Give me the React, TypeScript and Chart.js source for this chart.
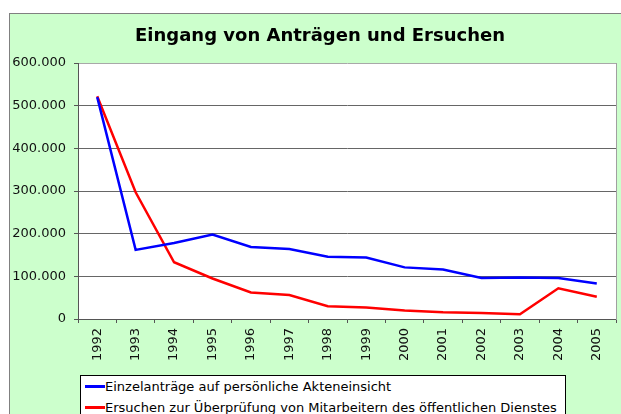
import React, { useEffect, useRef } from "react";
import { Chart, registerables } from "chart.js";

Chart.register(...registerables);

const chartTitle = "Eingang von Anträgen und Ersuchen";
const years = ["1992", "1993", "1994", "1995", "1996", "1997", "1998", "1999", "2000", "2001", "2002", "2003", "2004", "2005"];
const einzelantraege = [520000, 162000, 178000, 198000, 169000, 164000, 146000, 144000, 121000, 116000, 96000, 97000, 96000, 83000];
const ersuchen = [522000, 297000, 133000, 95000, 62000, 56000, 30000, 27000, 20000, 16000, 14000, 11000, 72000, 52000];
const seriesNames = [
  "Einzelanträge auf persönliche Akteneinsicht",
  "Ersuchen zur Überprüfung von Mitarbeitern des öffentlichen Dienstes",
];
const seriesColors = ["#0000FF", "#FF0000"];
const yMin = 0;
const yMax = 600000;
const yStep = 100000;

const fmt = (n: number) => String(Math.round(n)).replace(/\B(?=(\d{3})+(?!\d))/g, ".");

const FONT = "'DejaVu Sans', Verdana, sans-serif";

export default function App() {
  const ref = useRef<HTMLCanvasElement | null>(null);

  useEffect(() => {
    if (!ref.current) return;
    const plotBg = {
      id: "plotBg",
      beforeDraw(chart: any) {
        const { ctx, chartArea: a } = chart;
        ctx.save();
        ctx.fillStyle = "#FFFFFF";
        ctx.fillRect(a.left, a.top, a.right - a.left, a.bottom - a.top);
        ctx.restore();
      },
    };
    const chart = new Chart(ref.current, {
      type: "line",
      data: {
        labels: years,
        datasets: [
          {
            label: seriesNames[0],
            data: einzelantraege,
            borderColor: seriesColors[0],
            backgroundColor: seriesColors[0],
            borderWidth: 2.5,
            pointRadius: 0,
            tension: 0,
            yAxisID: "y",
          },
          {
            label: seriesNames[1],
            data: ersuchen,
            borderColor: seriesColors[1],
            backgroundColor: seriesColors[1],
            borderWidth: 2.5,
            pointRadius: 0,
            tension: 0,
            yAxisID: "y",
          },
        ],
      },
      options: {
        responsive: false,
        animation: false,
        layout: { padding: { left: 0, right: 0, top: 0, bottom: 5 } },
        plugins: {
          legend: { display: false },
          tooltip: { enabled: false },
          title: {
            display: true,
            text: chartTitle,
            color: "#000",
            font: { family: FONT, size: 18, weight: "bold", lineHeight: 1.2 },
            padding: { top: 12, bottom: 15.4 },
          },
        },
        scales: {
          x: {
            type: "category",
            offset: true,
            grid: {
              offset: true,
              drawOnChartArea: false,
              drawTicks: true,
              tickLength: 4,
              color: "#555",
            },
            border: { display: true, color: "#555", width: 1 },
            ticks: {
              autoSkip: false,
              minRotation: 90,
              maxRotation: 90,
              padding: 5,
              color: "#111",
              font: { family: FONT, size: 13 },
            },
            afterFit: (s: any) => {
              s.height = 50;
            },
          },
          y: {
            min: yMin,
            max: yMax,
            ticks: {
              stepSize: yStep,
              padding: 8,
              color: "#111",
              font: { family: FONT, size: 13 },
              callback: (v: any) => fmt(Number(v)),
            },
            grid: {
              color: (c: any) => (c.tick && c.tick.value === yMax ? "#a8a8a8" : "#666666"),
              lineWidth: 1,
              tickLength: 4,
              tickColor: "#555",
            },
            border: { display: true, color: "#555", width: 1 },
            afterFit: (s: any) => {
              s.width = 68;
            },
          },
          yRight: {
            position: "right",
            min: yMin,
            max: yMax,
            ticks: { display: false, stepSize: yStep },
            grid: { drawOnChartArea: false, drawTicks: false },
            border: { display: true, color: "#a0a0a0", width: 1 },
            afterFit: (s: any) => {
              s.width = 14;
            },
          },
        },
      },
      plugins: [plotBg],
    } as any);
    return () => chart.destroy();
  }, []);

  return (
    <div style={{ position: "fixed", left: 0, top: 0, width: 621, height: 414, overflow: "hidden", background: "#fff" }}>
      <div
        style={{
          position: "absolute",
          left: 9,
          top: 13,
          width: 640,
          height: 420,
          background: "#CCFFCC",
          border: "1px solid #808080",
        }}
      >
        <canvas ref={ref} width={620} height={360} style={{ display: "block", width: 620, height: 360 }} />
        <div
          style={{
            position: "absolute",
            left: 70,
            top: 361,
            width: 486,
            boxSizing: "border-box",
            background: "#fff",
            border: "1px solid #000",
            fontFamily: FONT,
            fontSize: 13,
            color: "#000",
            paddingBottom: 6,
          }}
        >
          {seriesNames.map((name, i) => (
            <div key={name} style={{ display: "flex", alignItems: "center", height: 21, whiteSpace: "nowrap" }}>
              <span style={{ display: "inline-block", width: 20, height: 3, background: seriesColors[i], marginLeft: 4 }} />
              <span>{name}</span>
            </div>
          ))}
        </div>
      </div>
    </div>
  );
}
